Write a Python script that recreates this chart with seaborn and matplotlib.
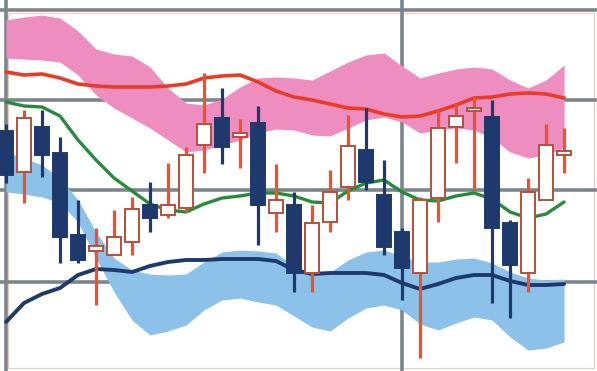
import numpy as np
import pandas as pd
import matplotlib
matplotlib.use("Agg")
import matplotlib.pyplot as plt
from matplotlib.patches import Rectangle
import seaborn as sns

# --- price data -------------------------------------------------------------
opens = [123.9, 119.8, 124.3, 121.7, 113.5, 111.9, 111.5, 112.8, 116.5, 115.5,
         116.2, 122.5, 125.2, 123.3, 124.7, 115.7, 116.5, 109.7, 114.8, 118.3,
         122.0, 117.5, 113.8, 109.7, 117.2, 124.3, 125.9, 125.3, 114.7, 109.7,
         117.0, 121.5]
highs = [124.6, 126.0, 126.0, 123.3, 117.0, 114.2, 116.0, 117.3, 118.8, 120.7,
         122.3, 129.7, 128.2, 125.1, 126.4, 120.6, 117.8, 116.5, 120.0, 125.5,
         126.2, 121.0, 114.2, 117.3, 126.0, 126.7, 127.4, 127.0, 115.0, 119.2,
         124.6, 124.2]
lows = [118.7, 116.7, 119.3, 110.7, 110.7, 106.5, 111.5, 111.5, 113.8, 115.2,
        115.8, 119.7, 120.6, 120.2, 112.5, 113.8, 107.8, 107.8, 113.8, 117.0,
        118.0, 111.5, 107.0, 101.2, 114.8, 120.7, 118.0, 106.7, 105.2, 107.8,
        117.0, 119.7]
closes = [119.5, 125.2, 121.5, 113.3, 111.0, 112.4, 113.3, 116.1, 115.2, 116.5,
          121.5, 124.6, 122.3, 123.7, 116.5, 117.0, 109.7, 114.7, 117.8, 122.4,
          118.8, 112.3, 110.2, 117.0, 124.2, 125.4, 126.2, 114.2, 110.5, 117.8,
          122.5, 121.9]

# --- indicator lines ----------------------------------------------------------
red_line = [129.8, 129.5, 129.6, 129.2, 128.6, 128.4, 128.3, 128.3, 128.3, 128.4,
            128.6, 129.2, 129.4, 129.5, 128.8, 127.9, 127.3, 127.0, 126.6, 126.2,
            126.1, 125.6, 125.3, 125.4, 125.9, 126.5, 127.2, 127.3, 127.6, 127.7,
            127.6, 127.2]
green_line = [126.8, 126.4, 126.3, 125.4, 123.0, 121.0, 119.2, 117.9, 116.6, 116.0,
              115.8, 116.6, 117.2, 117.4, 117.7, 117.7, 117.4, 116.8, 116.7, 117.9,
              118.7, 119.0, 117.8, 117.0, 116.9, 117.4, 117.7, 117.1, 115.8, 115.2,
              115.6, 116.8]
navy_line = [104.8, 106.7, 107.6, 108.2, 109.5, 110.1, 110.0, 109.8, 110.4, 110.8,
             111.0, 111.0, 111.1, 111.1, 111.1, 110.9, 110.0, 109.6, 109.7, 109.7,
             109.7, 109.5, 108.7, 108.1, 108.6, 109.2, 109.5, 109.5, 108.9, 108.5,
             108.5, 108.6]

# --- bands ------------------------------------------------------------------
pink_top = [135.0, 135.3, 135.5, 135.2, 133.9, 132.1, 131.6, 131.4, 130.3, 128.2,
            126.7, 126.5, 127.1, 128.3, 129.2, 129.3, 129.2, 129.0, 129.9, 130.8,
            131.5, 131.7, 130.4, 129.2, 129.7, 130.1, 130.3, 130.1, 129.0, 128.2,
            129.0, 130.5]
pink_bottom = [131.2, 131.1, 131.0, 130.8, 129.5, 127.5, 126.2, 125.2, 124.2, 123.0,
               121.8, 122.0, 122.5, 123.0, 123.7, 124.1, 124.0, 123.5, 123.4, 124.2,
               125.0, 125.3, 124.8, 123.7, 124.0, 124.2, 124.0, 123.2, 121.8, 121.2,
               121.5, 122.2]
blue_top = [121.8, 121.2, 120.5, 119.2, 117.0, 113.8, 111.2, 110.0, 109.6, 109.5,
            109.6, 110.8, 111.8, 112.0, 111.9, 111.7, 110.4, 109.7, 109.8, 111.0,
            111.8, 112.0, 111.4, 110.8, 110.8, 111.1, 111.2, 110.7, 109.8, 109.2,
            109.0, 109.1]
blue_bottom = [117.8, 117.6, 117.3, 116.7, 114.8, 111.2, 107.8, 105.0, 103.5, 103.9,
               104.5, 106.0, 107.0, 107.2, 106.8, 106.5, 105.4, 104.3, 103.9, 105.2,
               106.2, 106.5, 106.0, 104.6, 104.0, 104.7, 105.3, 105.0, 103.3, 102.0,
               102.2, 102.8]

# --- styling ----------------------------------------------------------------
GRID = "#7b868c"
PINK = "#ee8ec0"
BLUE = "#8cc1e9"
RED = "#ea3b24"
GREEN = "#2a8a3c"
NAVY = "#1e3a6c"
WICK_UP = "#f0502a"
EDGE_UP = "#b5503c"

sns.set_theme(style="white")

df = pd.DataFrame({
    "idx": np.arange(len(opens)),
    "open": opens, "high": highs, "low": lows, "close": closes,
    "red": red_line, "green": green_line, "navy": navy_line,
})

fig = plt.figure(figsize=(5.97, 3.71), dpi=100)
ax = fig.add_axes([0, 0, 1, 1])
ax.set_facecolor("white")

# thin frame
ax.add_patch(Rectangle((0.0134, 0.0081), 0.9816, 0.9569, transform=ax.transAxes,
                       fill=False, ec="#f4cbbb", lw=0.8, zorder=0.5))

# bands
ax.fill_between(df["idx"], pink_bottom, pink_top, color=PINK, lw=0, zorder=2)
ax.fill_between(df["idx"], blue_bottom, blue_top, color=BLUE, lw=0, zorder=2)

# indicator lines
sns.lineplot(data=df, x="idx", y="red", color=RED, lw=2.6, ax=ax, zorder=3)
sns.lineplot(data=df, x="idx", y="green", color=GREEN, lw=2.4, ax=ax, zorder=3)
sns.lineplot(data=df, x="idx", y="navy", color=NAVY, lw=2.8, ax=ax, zorder=3)

# candlesticks
up = df["close"] >= df["open"]
wick_colors = [WICK_UP if u else NAVY for u in up]
ax.vlines(df["idx"], df["low"], df["high"], colors=wick_colors, lw=2.3, zorder=4)
body_low = np.minimum(df["open"], df["close"])
body_h = np.abs(df["close"] - df["open"])
ax.bar(df["idx"], body_h, bottom=body_low, width=0.74,
       color=["white" if u else NAVY for u in up],
       edgecolor=[EDGE_UP if u else NAVY for u in up],
       linewidth=1.4, zorder=5)

# axes and grid
ax.set_xlim(-1 / 3, 32.83)
ax.set_ylim(99.9, 137.0)
ax.set_xticks([0, 22])
ax.set_yticks([108.8, 118, 127, 136])
ax.set_xticklabels([])
ax.set_yticklabels([])
ax.tick_params(length=0)
ax.grid(True, color=GRID, lw=2.6)
ax.set_axisbelow(True)
ax.set_xlabel("")
ax.set_ylabel("")
for s in ax.spines.values():
    s.set_visible(False)

fig.savefig("out.png", dpi=100)
